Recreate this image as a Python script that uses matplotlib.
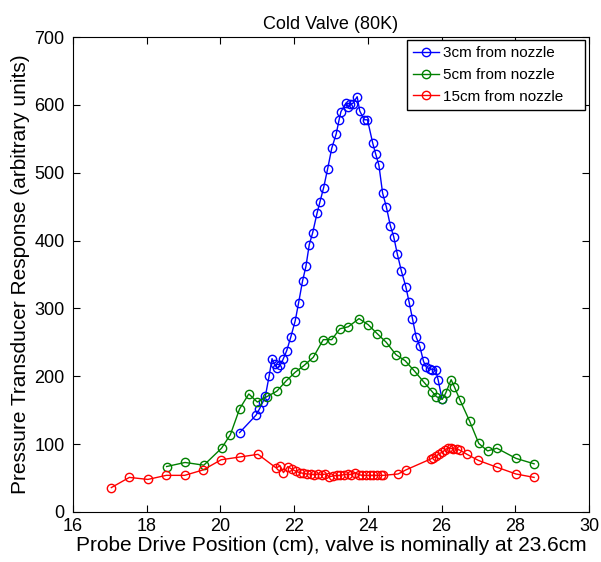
import matplotlib
matplotlib.use('Agg')
import matplotlib.pyplot as plt

plt.rcParams['font.family'] = ['Liberation Sans', 'DejaVu Sans']

# 3cm from nozzle
x_3cm = [20.52, 20.97, 21.06, 21.15, 21.22, 21.32, 21.40, 21.47, 21.53, 21.62, 21.70, 21.80,
         21.91, 22.03, 22.12, 22.23, 22.32, 22.41, 22.50, 22.62, 22.70, 22.80, 22.91, 23.02,
         23.14, 23.22, 23.27, 23.41, 23.47, 23.51, 23.59, 23.71, 23.78, 23.90, 23.99, 24.13,
         24.21, 24.30, 24.40, 24.50, 24.61, 24.70, 24.80, 24.91, 25.03, 25.12, 25.21, 25.31,
         25.41, 25.51, 25.59, 25.68, 25.75, 25.84, 25.91, 26.01]
y_3cm = [117, 143, 152, 162, 171, 200, 226, 218, 212, 216, 225, 238,
         258, 282, 308, 341, 362, 394, 411, 440, 457, 478, 506, 536,
         557, 578, 590, 603, 597, 601, 602, 612, 591, 578, 578, 544,
         528, 511, 470, 450, 422, 406, 380, 355, 332, 309, 285, 258,
         244, 222, 213, 211, 210, 209, 194, 167]

# 5cm from nozzle
x_5cm = [18.54, 19.04, 19.55, 20.03, 20.27, 20.52, 20.77, 21.00, 21.26, 21.53, 21.78, 22.03,
         22.27, 22.52, 22.79, 23.02, 23.24, 23.47, 23.76, 24.01, 24.25, 24.50, 24.76, 25.01,
         25.26, 25.51, 25.75, 25.86, 26.02, 26.11, 26.26, 26.35, 26.50, 26.76, 27.01, 27.25,
         27.50, 28.02, 28.51]
y_5cm = [67, 73, 69, 94, 114, 152, 174, 162, 170, 178, 193, 206,
         216, 228, 254, 254, 270, 273, 285, 276, 263, 250, 232, 223,
         208, 192, 177, 170, 166, 175, 195, 184, 165, 134, 101, 90,
         94, 79, 71]

# 15cm from nozzle
x_15cm = [17.04, 17.53, 18.03, 18.53, 19.03, 19.53, 20.02, 20.52, 21.02, 21.51, 21.62, 21.71,
          21.83, 21.94, 22.05, 22.15, 22.25, 22.35, 22.45, 22.55, 22.65, 22.75, 22.85, 22.95,
          23.05, 23.15, 23.25, 23.35, 23.45, 23.55, 23.65, 23.75, 23.85, 23.95, 24.05, 24.15,
          24.25, 24.35, 24.42, 24.82, 25.03, 25.70, 25.77, 25.85, 25.93, 26.02, 26.10, 26.17,
          26.25, 26.32, 26.42, 26.50, 26.69, 27.00, 27.50, 28.02, 28.51]
y_15cm = [36, 51, 48, 54, 54, 62, 77, 81, 85, 65, 68, 58,
          67, 63, 60, 58, 57, 56, 56, 55, 56, 55, 56, 52,
          53, 54, 54, 55, 56, 55, 58, 55, 54, 54, 54, 54,
          54, 54, 54, 56, 62, 78, 80, 82, 86, 88, 92, 94,
          94, 93, 93, 91, 85, 76, 66, 56, 51]

fig = plt.figure(figsize=(6.01, 5.62), dpi=100)
ax = fig.add_axes([73 / 601, 1 - 512 / 562, 516 / 601, 475 / 562])

style = dict(marker='o', markerfacecolor='none', markersize=6, linewidth=1, markeredgewidth=1)
ax.plot(x_3cm, y_3cm, color='#0000ff', label='3cm from nozzle', **style)
ax.plot(x_5cm, y_5cm, color='#008000', label='5cm from nozzle', **style)
ax.plot(x_15cm, y_15cm, color='#ff0000', label='15cm from nozzle', **style)

ax.set_xlim(16, 30)
ax.set_ylim(0, 700)
ax.set_xticks(range(16, 31, 2))
ax.set_yticks(range(0, 701, 100))
ax.tick_params(direction='in', top=True, right=True, length=5, labelsize=13)
ax.tick_params(axis='y', pad=6)
ax.tick_params(axis='x', pad=4)

ax.set_title('Cold Valve (80K)', fontsize=13)
ax.set_xlabel('Probe Drive Position (cm), valve is nominally at 23.6cm', fontsize=15, labelpad=1)
ax.set_ylabel('Pressure Transducer Response (arbitrary units)', fontsize=15, labelpad=3)

leg = ax.legend(loc='upper left', bbox_to_anchor=(0.648, 0.5, 0.345, 0.493), mode='expand',
                borderaxespad=0, fontsize=11, fancybox=False, edgecolor='black', framealpha=1,
                handlelength=1.7, handletextpad=0.2, borderpad=0.4, labelspacing=0.5)
leg.get_frame().set_linewidth(1)

fig.savefig('out.png', dpi=100)
